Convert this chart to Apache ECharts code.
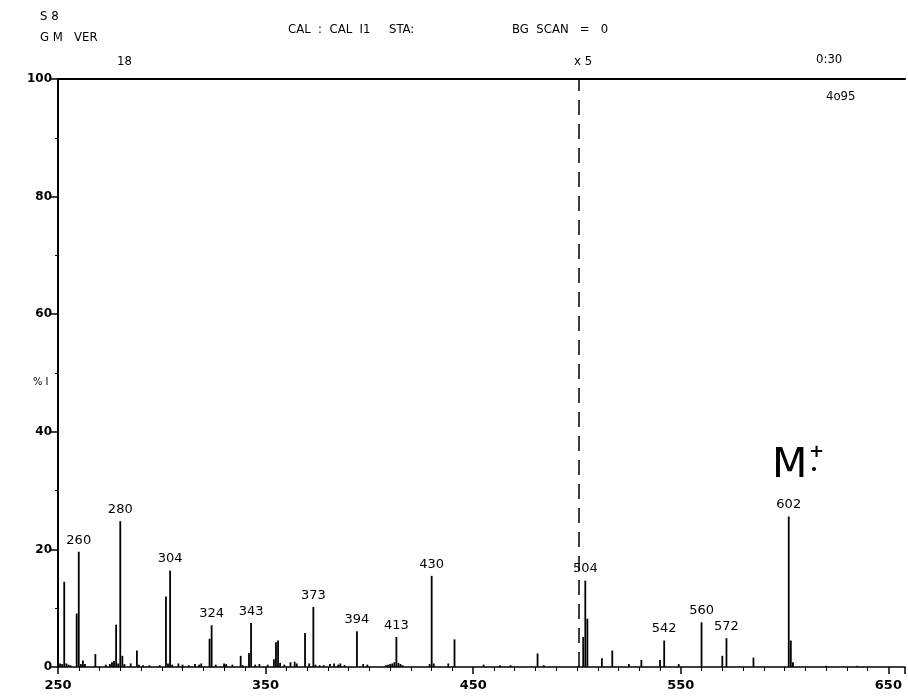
<!DOCTYPE html>
<html><head><meta charset="utf-8">
<script src="https://cdn.jsdelivr.net/npm/echarts/dist/echarts.min.js"></script>
<style>html,body{margin:0;padding:0;background:#fff}#c{width:908px;height:697px}</style>
</head><body><div id="c"></div>
<script>
// m/z values and relative intensities (% I)
const massValues = [
  251,252,253,254,255,256,259,260,261,262,263,268,273,275,276,277,278,279,280,281,282,285,288,289,291,294,299,
  302,303,304,305,308,310,313,316,318,319,323,324,326,330,331,334,338,339,342,343,345,347,351,354,355,356,357,359,
  362,364,365,369,371,373,374,376,378,381,383,385,386,388,394,397,399,408,409,410,411,412,413,414,415,416,
  429,430,431,438,441,455,463,468,481,484,
  503,504,505,512,517,525,531,540,542,549,560,570,572,585,602,603,604,620,635
];
const intensities = [
  0.6,0.5,14.5,0.6,0.4,0.3,9.1,19.6,0.5,1.1,0.5,2.2,0.4,0.5,0.8,1.0,7.2,0.6,24.8,1.9,0.5,0.6,2.8,0.4,0.3,0.3,0.3,
  12.0,0.6,16.4,0.4,0.6,0.4,0.3,0.5,0.4,0.6,4.8,7.1,0.4,0.6,0.5,0.4,1.9,0.3,2.4,7.5,0.4,0.5,0.4,1.3,4.2,4.5,0.7,0.4,
  0.8,0.9,0.6,5.8,0.6,10.2,0.4,0.3,0.3,0.5,0.6,0.4,0.6,0.3,6.1,0.5,0.4,0.3,0.4,0.5,0.6,0.8,5.1,0.7,0.5,0.3,
  0.5,15.5,0.6,0.6,4.7,0.4,0.3,0.3,2.3,0.3,
  5.1,14.7,8.2,1.5,2.8,0.5,1.2,1.2,4.5,0.5,7.6,1.9,4.9,1.6,25.6,4.5,0.8,0.2,0.2
];
const labeledMasses = [260,280,304,324,343,373,394,413,430,504,542,560,572,602];
const xTickLabels = [250,350,450,550,650];
const yTickLabels = [0,20,40,60,80,100];
const magnifyMass = 501;

const plotFont = "'DejaVu Sans Condensed','Liberation Sans Narrow','DejaVu Sans',sans-serif";
const peakData = massValues.map((m, i) => {
  const item = { value: [m, intensities[i]] };
  if (labeledMasses.includes(m)) {
    item.label = { show: true, position: 'top', distance: 5, formatter: String(m),
      color: '#000', fontSize: 13, fontFamily: "'DejaVu Sans',sans-serif" };
  }
  return item;
});

const chart = echarts.init(document.getElementById('c'), null, { renderer: 'canvas' });
const hdr = (text, left, top, size) => ({ type: 'text', left, top,
  style: { text, fill: '#000', font: `${size || 13}px ${plotFont}` } });

chart.setOption({
  animation: false,
  backgroundColor: '#fff',
  grid: { left: 58, right: 3, top: 79, bottom: 30, containLabel: false },
  xAxis: [{
    type: 'value', min: xTickLabels[0], max: 658, interval: 100,
    axisLine: { show: true, onZero: false, lineStyle: { color: '#000', width: 1.5 } },
    axisTick: { show: true, length: 7, lineStyle: { color: '#000', width: 1.5 } },
    minorTick: { show: true, splitNumber: 10, length: 4, lineStyle: { color: '#000', width: 1 } },
    axisLabel: { color: '#000', fontSize: 13, fontWeight: 'bold', margin: 12,
      fontFamily: "'DejaVu Sans',sans-serif",
      formatter: v => (xTickLabels.includes(v) ? String(v) : '') },
    splitLine: { show: false }, minorSplitLine: { show: false }
  }, {
    type: 'value', position: 'top', min: xTickLabels[0], max: 658,
    axisLine: { show: true, onZero: false, lineStyle: { color: '#000', width: 2 } },
    axisTick: { show: false }, axisLabel: { show: false }, splitLine: { show: false }
  }],
  yAxis: {
    type: 'value', min: yTickLabels[0], max: yTickLabels[yTickLabels.length - 1], interval: 20,
    axisLine: { show: true, lineStyle: { color: '#000', width: 2 } },
    axisTick: { show: true, length: 7, lineStyle: { color: '#000', width: 1.5 } },
    minorTick: { show: true, splitNumber: 2, length: 3, lineStyle: { color: '#000' } },
    axisLabel: { color: '#000', fontSize: 12, fontWeight: 'bold', margin: 6,
      fontFamily: "'DejaVu Sans',sans-serif" },
    splitLine: { show: false }
  },
  series: [{
    type: 'bar', xAxisIndex: 0, barWidth: 1.8, data: peakData,
    itemStyle: { color: '#000' },
    markLine: { symbol: 'none', silent: true, label: { show: false },
      lineStyle: { type: [15, 9], color: '#000', width: 1.5 },
      data: [{ xAxis: magnifyMass }] }
  }],
  graphic: [
    hdr('S 8', 40, 10),
    hdr('G M   VER', 40, 31),
    hdr('CAL  :  CAL  I1     STA:', 288, 23),
    hdr('BG  SCAN   =   0', 512, 23),
    hdr('18', 117, 55),
    hdr('x 5', 574, 55),
    hdr('0:30', 816, 53),
    hdr('4o95', 826, 90),
    hdr('% I', 33, 377, 11),
    { type: 'text', left: 772, top: 446, style: { text: 'M', fill: '#000', font: `41px 'DejaVu Sans',sans-serif` } },
    { type: 'text', left: 809, top: 443, style: { text: '+', fill: '#000', font: `bold 18px 'DejaVu Sans',sans-serif` } },
    { type: 'circle', shape: { cx: 814, cy: 469, r: 2 }, style: { fill: '#000' } }
  ]
});
</script></body></html>
